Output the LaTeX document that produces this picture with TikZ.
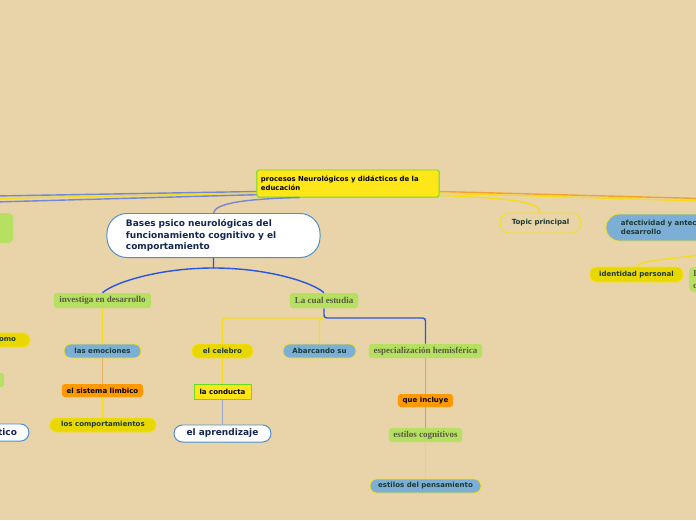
\documentclass[tikz,border=0pt]{standalone}
\usepackage{fontspec}
\newfontfamily\mapsans{DejaVu Sans}
\newfontfamily\mapserif{Liberation Serif}
\definecolor{paper}{RGB}{232,212,168}
\definecolor{rootfill}{RGB}{255,230,25}
\definecolor{rootline}{RGB}{102,221,34}
\definecolor{leaf}{RGB}{181,224,97}
\definecolor{sky}{RGB}{125,175,214}
\definecolor{lemon}{RGB}{232,216,0}
\definecolor{lemonline}{RGB}{245,224,32}
\definecolor{amber}{RGB}{255,153,0}
\definecolor{frame}{RGB}{74,144,208}
\definecolor{navy}{RGB}{20,38,80}
\definecolor{ink}{RGB}{28,58,48}
\definecolor{greytext}{RGB}{90,90,64}
\definecolor{linkblue}{RGB}{40,85,225}
\definecolor{linkyellow}{RGB}{246,220,30}
\definecolor{linkorange}{RGB}{245,160,48}
\definecolor{linktan}{RGB}{228,180,100}
\definecolor{linkgrey}{RGB}{150,165,200}
\definecolor{linkslate}{RGB}{115,135,210}
\begin{document}
\begin{tikzpicture}[x=0.025cm,y=-0.025cm,
    every node/.style={inner sep=0pt,font=\mapsans\bfseries\fontsize{5}{6.4}\selectfont},
    pillnode/.style={draw=lemonline,line width=0.6pt,text=ink,minimum height=0.35cm,rounded corners=0.17cm},
    yellowpill/.style={pillnode,fill=lemon},
    bluepill/.style={pillnode,fill=sky},
    whitepill/.style={draw=frame,line width=0.7pt,fill=white,text=navy,font=\mapsans\bfseries\fontsize{6.4}{8.2}\selectfont},
    greenbox/.style={rounded corners=2pt,fill=leaf,text=greytext,minimum height=0.375cm,font=\mapserif\bfseries\fontsize{6.4}{8}\selectfont},
    orangebox/.style={rounded corners=2pt,fill=amber,text=black,minimum height=0.325cm},
    yellowbox/.style={fill=rootfill,draw=rootline,line width=0.7pt,text=black},
    link/.style={line width=1pt}]
    \fill[paper] (0,0) rectangle (696,520);
    \useasboundingbox (0,0) rectangle (696,520);
    \clip (0,0) rectangle (696,520);

    \node[yellowbox,rounded corners=1pt,minimum width=4.55cm,minimum height=0.675cm,text width=4.35cm,align=left,font=\mapsans\bfseries\fontsize{4.9}{6.4}\selectfont] (root) at (348,183.5) {procesos Neurológicos y didácticos de la\\educación};
    \node[whitepill,rounded corners=0.5cm,minimum width=5.325cm,minimum height=1.1cm,text width=4.375cm,align=left] (bases) at (213.5,235.5) {Bases psico neurológicas del\\funcionamiento cognitivo y el\\comportamiento};

    \node[greenbox,minimum width=2.425cm] (invest) at (102.5,300.5) {investiga en desarrollo};
    \node[greenbox,minimum width=1.7cm] (lacual) at (324,300.5) {La cual estudia};

    \node[bluepill,minimum width=1.925cm] (emociones) at (102.5,351) {las emociones};
    \node[orangebox,minimum width=2.025cm] (limbico) at (102.5,390.5) {el sistema limbico};
    \node[yellowpill,minimum width=2.65cm] (comport) at (103,425) {los comportamientos};

    \node[yellowpill,minimum width=1.525cm] (celebro) at (222.5,351) {el celebro};
    \node[bluepill,minimum width=1.825cm] (abarcando) at (319.5,351) {Abarcando su};
    \node[greenbox,minimum width=2.825cm,minimum height=0.35cm] (espec) at (425.5,351) {especialización hemisférica};

    \node[yellowbox,minimum width=1.425cm,minimum height=0.375cm] (conducta) at (222.5,391.5) {la conducta};
    \node[whitepill,rounded corners=0.21cm,minimum width=2.425cm,minimum height=0.425cm] (aprendizaje) at (222.5,433.5) {el aprendizaje};

    \node[orangebox,minimum width=1.375cm] (incluye) at (425.5,400.5) {que incluye};
    \node[greenbox,minimum width=1.825cm,minimum height=0.35cm] (cognitivos) at (425.5,435) {estilos cognitivos};
    \node[bluepill,minimum width=2.775cm] (pensamiento) at (425.5,486) {estilos del pensamiento};

    \node[pillnode,rounded corners=0.24cm,minimum width=2.025cm,minimum height=0.5cm] (topic) at (540.5,223) {Topic principal};
    \node[bluepill,rounded corners=0.33cm,minimum width=5.7cm,minimum height=0.675cm,text width=4.95cm,align=left] (afect) at (720,227.5) {afectividad y antec\\desarrollo};
    \node[yellowpill,minimum width=2.325cm,minimum height=0.375cm] (identidad) at (636.5,274.5) {identidad personal};
    \node[greenbox,rounded corners=0.12cm,minimum width=1.55cm,minimum height=0.625cm,text width=1.35cm,align=left] (rightleaf) at (720,279.5) {I\\c};

    \node[greenbox,rounded corners=0.12cm,minimum width=2.15cm,minimum height=0.75cm] (leftbox) at (-30,228) {};
    \node[yellowpill,minimum width=1.5cm,text width=0.8cm,align=right] (como) at (0,340) {omo};
    \node[greenbox,minimum width=1.1cm,minimum height=0.35cm] (leftleaf) at (-18,380) {};
    \node[whitepill,rounded corners=0.21cm,minimum width=1.45cm,minimum height=0.425cm,text width=0.85cm,align=right] (tico) at (0,432.5) {tico};

    \coordinate (west1) at (-5,196);
    \coordinate (west2) at (-5,198.5);
    \coordinate (west3) at (-5,202);
    \coordinate (east1) at (700,198.5);
    \coordinate (east2) at (700,201);
    \coordinate (bfork) at (213.5,268);
    \coordinate (lfork) at (324,318);

    \draw[link,linkslate] ([yshift=-0.2cm]root.west) -- (west1);
    \draw[link,linkyellow] ([yshift=-0.24cm]root.west) -- (west2);
    \draw[link,linkslate] ([yshift=-0.28cm]root.west) -- (west3);
    \draw[link,linkorange] ([yshift=-0.2cm]root.east) -- (east1);
    \draw[link,linkyellow] ([yshift=-0.24cm]root.east) -- (east2);
    \draw[link,linkyellow] ([yshift=-0.3cm]root.east) .. controls (505,198) and (540,201) .. (topic.north);
    \draw[link,linkslate] (bases.north) .. controls (215,204) and (240,199) .. ([xshift=-1.2cm]root.south);

    \draw[link,linkblue] (bases.south) -- (bfork) .. controls (160,268) and (115,282) .. (invest.north);
    \draw[link,linkblue] (bfork) .. controls (267,268) and (312,282) .. (lacual.north);
    \draw[link,linkblue,rounded corners=2pt] (lacual.south) -- (lfork) -| (espec.north);
    \draw[link,linkyellow,rounded corners=2pt] (lfork) -| (celebro.north);
    \draw[link,linkyellow,rounded corners=2pt] (lfork) -| (abarcando.north);

    \draw[link,linkyellow] (invest) -- (emociones);
    \draw[link,linktan] (emociones) -- (limbico);
    \draw[link,linkyellow] (limbico) -- (comport);
    \draw[link,linkyellow] (celebro) -- (conducta);
    \draw[link,linkgrey] (conducta) -- (aprendizaje);
    \draw[link,linkorange] (espec) -- (incluye);
    \draw[link,linkgrey] (incluye) -- (cognitivos);
    \draw[link,linkyellow] (cognitivos) -- (pensamiento);
    \draw[link,linkyellow] (afect.south) .. controls (720,262) and (645,255) .. (identidad.north);
\end{tikzpicture}
\end{document}
